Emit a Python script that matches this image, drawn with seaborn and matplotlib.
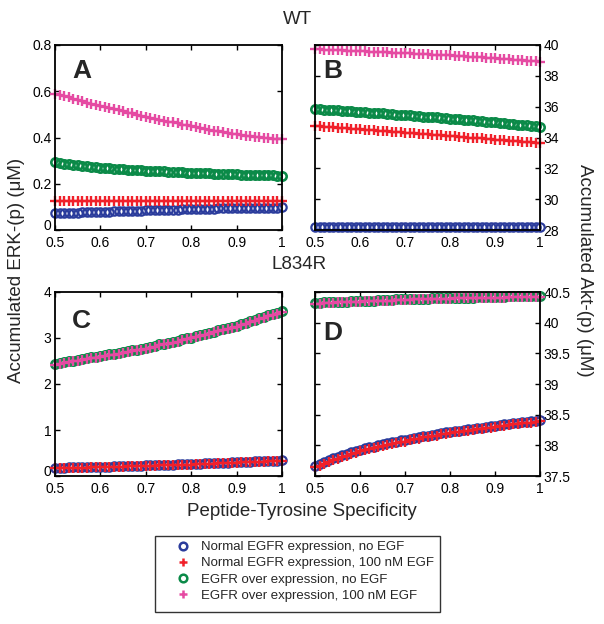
import matplotlib
matplotlib.use("Agg")
import matplotlib.pyplot as plt
from matplotlib.lines import Line2D
from matplotlib.patches import Rectangle
from matplotlib.ticker import FuncFormatter
import seaborn as sns
import pandas as pd

# ---------------- data ----------------
specificity = [0.50, 0.51, 0.52, 0.53, 0.54, 0.55, 0.56, 0.57, 0.58, 0.59,
               0.60, 0.61, 0.62, 0.63, 0.64, 0.65, 0.66, 0.67, 0.68, 0.69,
               0.70, 0.71, 0.72, 0.73, 0.74, 0.75, 0.76, 0.77, 0.78, 0.79,
               0.80, 0.81, 0.82, 0.83, 0.84, 0.85, 0.86, 0.87, 0.88, 0.89,
               0.90, 0.91, 0.92, 0.93, 0.94, 0.95, 0.96, 0.97, 0.98, 0.99,
               1.00]

series_labels = ["Normal EGFR expression, no EGF",
                 "Normal EGFR expression, 100 nM EGF",
                 "EGFR over expression, no EGF",
                 "EGFR over expression, 100 nM EGF"]

# Panel A: WT, ERK-(p)
wt_erk_normal_noegf = [0.072, 0.073, 0.073, 0.074, 0.075, 0.075, 0.076, 0.077, 0.077, 0.078,
                       0.079, 0.079, 0.080, 0.081, 0.081, 0.082, 0.082, 0.083, 0.084, 0.084,
                       0.085, 0.085, 0.086, 0.086, 0.087, 0.087, 0.088, 0.088, 0.089, 0.089,
                       0.090, 0.090, 0.091, 0.091, 0.092, 0.092, 0.093, 0.093, 0.093, 0.094,
                       0.094, 0.095, 0.095, 0.095, 0.096, 0.096, 0.096, 0.097, 0.097, 0.097,
                       0.098]
wt_erk_normal_egf = [0.124, 0.124, 0.124, 0.124, 0.124, 0.124, 0.124, 0.124, 0.124, 0.124,
                     0.125, 0.125, 0.125, 0.125, 0.125, 0.125, 0.125, 0.125, 0.125, 0.125,
                     0.125, 0.125, 0.125, 0.125, 0.125, 0.125, 0.125, 0.125, 0.125, 0.125,
                     0.125, 0.125, 0.125, 0.125, 0.125, 0.125, 0.125, 0.125, 0.125, 0.125,
                     0.126, 0.126, 0.126, 0.126, 0.126, 0.126, 0.126, 0.126, 0.126, 0.126,
                     0.126]
wt_erk_over_noegf = [0.292, 0.289, 0.286, 0.284, 0.281, 0.279, 0.277, 0.275, 0.273, 0.271,
                     0.270, 0.268, 0.267, 0.265, 0.264, 0.263, 0.261, 0.260, 0.259, 0.258,
                     0.257, 0.256, 0.255, 0.254, 0.253, 0.252, 0.251, 0.250, 0.249, 0.248,
                     0.248, 0.247, 0.246, 0.245, 0.245, 0.244, 0.243, 0.243, 0.242, 0.241,
                     0.241, 0.240, 0.239, 0.239, 0.238, 0.238, 0.237, 0.236, 0.236, 0.235,
                     0.235]
wt_erk_over_egf = [0.590, 0.584, 0.578, 0.573, 0.567, 0.562, 0.556, 0.551, 0.546, 0.541,
                   0.536, 0.531, 0.526, 0.522, 0.517, 0.513, 0.508, 0.504, 0.499, 0.495,
                   0.490, 0.486, 0.482, 0.477, 0.473, 0.469, 0.465, 0.461, 0.456, 0.452,
                   0.448, 0.445, 0.441, 0.437, 0.434, 0.430, 0.427, 0.424, 0.420, 0.417,
                   0.414, 0.411, 0.408, 0.406, 0.403, 0.401, 0.399, 0.397, 0.395, 0.393,
                   0.392]

# Panel B: WT, Akt-(p)
wt_akt_normal_noegf = [28.19, 28.19, 28.19, 28.19, 28.19, 28.19, 28.19, 28.19, 28.19, 28.19,
                       28.20, 28.20, 28.20, 28.20, 28.20, 28.20, 28.20, 28.20, 28.20, 28.20,
                       28.20, 28.20, 28.20, 28.20, 28.20, 28.20, 28.20, 28.20, 28.20, 28.20,
                       28.21, 28.21, 28.21, 28.21, 28.21, 28.21, 28.21, 28.21, 28.21, 28.21,
                       28.21, 28.21, 28.21, 28.21, 28.21, 28.21, 28.21, 28.21, 28.21, 28.21,
                       28.21]
wt_akt_normal_egf = [34.74, 34.72, 34.70, 34.68, 34.66, 34.64, 34.61, 34.59, 34.57, 34.55,
                     34.53, 34.51, 34.49, 34.46, 34.44, 34.42, 34.40, 34.38, 34.35, 34.33,
                     34.31, 34.29, 34.27, 34.24, 34.22, 34.20, 34.18, 34.16, 34.13, 34.11,
                     34.09, 34.07, 34.05, 34.02, 34.00, 33.98, 33.96, 33.94, 33.91, 33.89,
                     33.87, 33.85, 33.82, 33.80, 33.78, 33.76, 33.73, 33.71, 33.69, 33.66,
                     33.64]
wt_akt_over_noegf = [35.85, 35.83, 35.81, 35.79, 35.77, 35.76, 35.74, 35.72, 35.70, 35.68,
                     35.66, 35.64, 35.62, 35.60, 35.58, 35.56, 35.53, 35.51, 35.49, 35.47,
                     35.45, 35.43, 35.41, 35.38, 35.36, 35.34, 35.32, 35.30, 35.27, 35.25,
                     35.23, 35.21, 35.18, 35.16, 35.13, 35.11, 35.08, 35.06, 35.03, 35.01,
                     34.98, 34.95, 34.92, 34.90, 34.87, 34.84, 34.81, 34.78, 34.76, 34.73,
                     34.70]
wt_akt_over_egf = [39.72, 39.71, 39.70, 39.68, 39.67, 39.66, 39.65, 39.64, 39.62, 39.61,
                   39.60, 39.59, 39.57, 39.56, 39.55, 39.54, 39.52, 39.51, 39.50, 39.48,
                   39.47, 39.46, 39.44, 39.43, 39.41, 39.40, 39.38, 39.37, 39.35, 39.34,
                   39.32, 39.30, 39.28, 39.27, 39.25, 39.23, 39.21, 39.19, 39.18, 39.16,
                   39.14, 39.12, 39.10, 39.07, 39.05, 39.03, 39.01, 38.99, 38.96, 38.94,
                   38.92]

# Panel C: L834R, ERK-(p)
mut_erk_normal_noegf = [0.180, 0.182, 0.184, 0.186, 0.188, 0.190, 0.192, 0.194, 0.196, 0.198,
                        0.200, 0.203, 0.206, 0.209, 0.212, 0.215, 0.218, 0.221, 0.224, 0.227,
                        0.230, 0.233, 0.236, 0.239, 0.242, 0.245, 0.248, 0.251, 0.254, 0.257,
                        0.260, 0.264, 0.268, 0.272, 0.276, 0.280, 0.284, 0.288, 0.292, 0.296,
                        0.300, 0.304, 0.308, 0.312, 0.316, 0.320, 0.324, 0.328, 0.332, 0.336,
                        0.340]
mut_erk_normal_egf = [0.170, 0.172, 0.174, 0.176, 0.178, 0.180, 0.182, 0.184, 0.186, 0.188,
                      0.190, 0.193, 0.196, 0.199, 0.202, 0.205, 0.208, 0.211, 0.214, 0.217,
                      0.220, 0.223, 0.226, 0.229, 0.232, 0.235, 0.238, 0.241, 0.244, 0.247,
                      0.250, 0.254, 0.258, 0.262, 0.266, 0.270, 0.274, 0.278, 0.282, 0.286,
                      0.290, 0.294, 0.298, 0.302, 0.306, 0.310, 0.314, 0.318, 0.322, 0.326,
                      0.330]
mut_erk_over_noegf = [2.44, 2.46, 2.47, 2.49, 2.51, 2.53, 2.54, 2.56, 2.58, 2.59,
                      2.61, 2.63, 2.65, 2.66, 2.68, 2.70, 2.72, 2.74, 2.75, 2.77,
                      2.79, 2.81, 2.83, 2.86, 2.88, 2.90, 2.92, 2.94, 2.97, 2.99,
                      3.01, 3.04, 3.06, 3.09, 3.11, 3.14, 3.17, 3.19, 3.22, 3.24,
                      3.27, 3.30, 3.33, 3.36, 3.39, 3.43, 3.46, 3.49, 3.52, 3.55,
                      3.58]
mut_erk_over_egf = [2.42, 2.44, 2.45, 2.47, 2.49, 2.51, 2.52, 2.54, 2.56, 2.57,
                    2.59, 2.61, 2.63, 2.64, 2.66, 2.68, 2.70, 2.72, 2.73, 2.75,
                    2.77, 2.79, 2.81, 2.84, 2.86, 2.88, 2.90, 2.92, 2.95, 2.97,
                    2.99, 3.02, 3.04, 3.07, 3.09, 3.12, 3.15, 3.17, 3.20, 3.22,
                    3.25, 3.28, 3.31, 3.34, 3.37, 3.41, 3.44, 3.47, 3.50, 3.53,
                    3.56]

# Panel D: L834R, Akt-(p)
mut_akt_normal_noegf = [37.67, 37.70, 37.73, 37.76, 37.79, 37.81, 37.84, 37.86, 37.89, 37.91,
                        37.93, 37.95, 37.97, 37.98, 38.00, 38.02, 38.03, 38.05, 38.06, 38.08,
                        38.09, 38.10, 38.12, 38.13, 38.15, 38.16, 38.17, 38.18, 38.20, 38.21,
                        38.22, 38.23, 38.24, 38.25, 38.26, 38.27, 38.28, 38.29, 38.30, 38.31,
                        38.32, 38.33, 38.34, 38.35, 38.36, 38.37, 38.38, 38.38, 38.39, 38.40,
                        38.41]
mut_akt_normal_egf = [37.64, 37.67, 37.70, 37.73, 37.76, 37.78, 37.81, 37.83, 37.86, 37.88,
                      37.90, 37.92, 37.94, 37.95, 37.97, 37.99, 38.00, 38.02, 38.03, 38.05,
                      38.06, 38.08, 38.10, 38.11, 38.13, 38.14, 38.15, 38.16, 38.18, 38.19,
                      38.20, 38.21, 38.22, 38.23, 38.24, 38.25, 38.26, 38.27, 38.28, 38.29,
                      38.30, 38.31, 38.32, 38.33, 38.34, 38.35, 38.36, 38.36, 38.37, 38.38,
                      38.39]
mut_akt_over_noegf = [40.32, 40.32, 40.33, 40.33, 40.33, 40.34, 40.34, 40.34, 40.35, 40.35,
                      40.35, 40.36, 40.36, 40.36, 40.37, 40.37, 40.37, 40.37, 40.38, 40.38,
                      40.38, 40.38, 40.39, 40.39, 40.39, 40.39, 40.40, 40.40, 40.40, 40.40,
                      40.40, 40.41, 40.41, 40.41, 40.41, 40.41, 40.42, 40.42, 40.42, 40.42,
                      40.42, 40.42, 40.42, 40.43, 40.43, 40.43, 40.43, 40.43, 40.43, 40.43,
                      40.43]
mut_akt_over_egf = [40.31, 40.31, 40.32, 40.32, 40.32, 40.33, 40.33, 40.33, 40.34, 40.34,
                    40.34, 40.35, 40.35, 40.35, 40.36, 40.36, 40.36, 40.36, 40.37, 40.37,
                    40.37, 40.37, 40.38, 40.38, 40.38, 40.38, 40.39, 40.39, 40.39, 40.39,
                    40.39, 40.40, 40.40, 40.40, 40.40, 40.40, 40.41, 40.41, 40.41, 40.41,
                    40.41, 40.41, 40.41, 40.42, 40.42, 40.42, 40.42, 40.42, 40.42, 40.42,
                    40.42]

x_ticks = [0.5, 0.6, 0.7, 0.8, 0.9, 1.0]
yticks_A = [0, 0.2, 0.4, 0.6, 0.8]
yticks_B = [28, 30, 32, 34, 36, 38, 40]
yticks_C = [0, 1, 2, 3, 4]
yticks_D = [37.5, 38, 38.5, 39, 39.5, 40, 40.5]

# ---------------- style ----------------
sns.set_style("ticks")
plt.rcParams["font.family"] = ["Liberation Sans", "DejaVu Sans"]
plt.rcParams["axes.linewidth"] = 1.3

BLUE = "#2b3c9c"
RED = "#f0202a"
GREEN = "#0b8a48"
PINK = "#e54aa2"

styles = [
    dict(color=BLUE, marker="o", mfc="none", mec=BLUE, ms=6.0, mew=1.6),
    dict(color=RED, marker="+", mec=RED, ms=7.0, mew=1.7),
    dict(color=GREEN, marker="o", mfc="none", mec=GREEN, ms=6.0, mew=1.9),
    dict(color=PINK, marker="+", mec=PINK, ms=7.0, mew=1.7),
]

W, H = 604, 624
fig = plt.figure(figsize=(W / 100, H / 100), dpi=100)


def add_ax(l, t, r, b):
    return fig.add_axes([l / W, 1 - b / H, (r - l) / W, (b - t) / H])


axA = add_ax(55, 45, 282, 230)
axB = add_ax(315, 45, 540, 230)
axC = add_ax(55, 292, 282, 476)
axD = add_ax(315, 292, 540, 476)

panels = [
    (axA, [wt_erk_normal_noegf, wt_erk_normal_egf, wt_erk_over_noegf, wt_erk_over_egf],
     yticks_A, "A", (0.118, 0.86), False),
    (axB, [wt_akt_normal_noegf, wt_akt_normal_egf, wt_akt_over_noegf, wt_akt_over_egf],
     yticks_B, "B", (0.08, 0.86), True),
    (axC, [mut_erk_normal_noegf, mut_erk_normal_egf, mut_erk_over_noegf, mut_erk_over_egf],
     yticks_C, "C", (0.114, 0.84), False),
    (axD, [mut_akt_normal_noegf, mut_akt_normal_egf, mut_akt_over_noegf, mut_akt_over_egf],
     yticks_D, "D", (0.08, 0.777), True),
]

fmt = FuncFormatter(lambda v, p: f"{v:g}")

for ax, ys, yt, letter, lpos, right in panels:
    for y, st, lab in zip(ys, styles, series_labels):
        df = pd.DataFrame({"x": specificity, "y": y})
        sns.lineplot(data=df, x="x", y="y", ax=ax, estimator=None, sort=False,
                     linestyle="none", linewidth=0, clip_on=False, **st)
    ax.set_xlim(0.5, 1.0)
    ax.set_ylim(yt[0], yt[-1])
    ax.set_xticks(x_ticks)
    ax.set_yticks(yt)
    ax.xaxis.set_major_formatter(fmt)
    ax.yaxis.set_major_formatter(fmt)
    ax.set_xlabel("")
    ax.set_ylabel("")
    ax.tick_params(direction="in", length=3.5, width=1.0, top=True, right=True,
                   labelsize=10, colors="black")
    ax.tick_params(axis="x", pad=4.2)
    ax.tick_params(axis="y", pad=2.5)
    if right:
        ax.tick_params(axis="y", labelleft=False, labelright=True)
    else:
        # bottom "0" label sits just above the x tick labels, as in the original
        ax.get_yticklabels()[0].set_va("baseline")
    for s in ax.spines.values():
        s.set_visible(True)
        s.set_color("black")
        s.set_linewidth(1.3)
    ax.text(lpos[0], lpos[1], letter, transform=ax.transAxes, ha="center",
            va="center", fontsize=19, fontweight="bold")

fig.text(297 / W, 1 - 19 / H, "WT", ha="center", va="center", fontsize=13.5)
fig.text(299 / W, 1 - 264 / H, "L834R", ha="center", va="center", fontsize=13.5)
fig.text(17 / W, 1 - 270 / H, "Accumulated ERK-(p) (\u03bcM)", rotation=90,
         ha="center", va="center", fontsize=13.5)
fig.text(585 / W, 1 - 270 / H, "Accumulated Akt-(p) (\u03bcM)", rotation=270,
         ha="center", va="center", fontsize=13.5)
fig.text(302 / W, 1 - 512 / H, "Peptide-Tyrosine Specificity", ha="center",
         va="center", fontsize=13.5)

# legend
handles = [Line2D([], [], linestyle="none", marker=st["marker"], color=st["color"],
                  mfc=st.get("mfc", st["color"]), mec=st["mec"], ms=5.5,
                  mew=1.8) for st in styles]
fig.patches.append(Rectangle((155 / W, 1 - 612 / H), 285 / W, 76 / H,
                             transform=fig.transFigure, fill=False,
                             edgecolor="#333333", linewidth=1.0))
fig.legend(handles, series_labels, loc="upper left",
           bbox_to_anchor=(174 / W, 1 - 541 / H), borderaxespad=0, borderpad=0,
           frameon=False, fontsize=9.5, handlelength=1.4, handletextpad=0.67,
           labelspacing=0.3)

fig.savefig("out.png", dpi=100, facecolor="white")
